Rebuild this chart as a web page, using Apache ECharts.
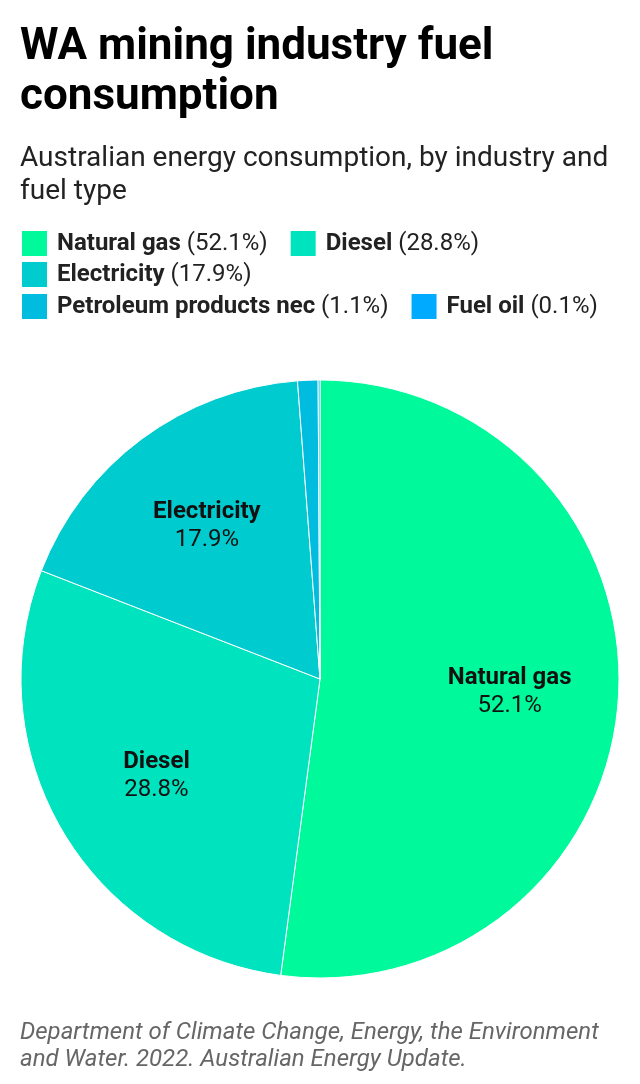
<!DOCTYPE html>
<html lang="en">
<head>
    <meta charset="UTF-8">
    <title>WA mining industry fuel consumption</title>
    <script src="https://cdn.jsdelivr.net/npm/echarts@6/dist/echarts.min.js"></script>
    <style>
        html, body { margin: 0; padding: 0; background: #fff; }
    </style>
</head>
<body>

<div id="pie_wrap" style="width: 640px; height: 1084px;"></div>

<script>
    var fuels = ["Natural gas", "Diesel", "Electricity", "Petroleum products nec", "Fuel oil"];
    var shares = [52.1, 28.8, 17.9, 1.1, 0.1];
    var colors = ["#00f99a", "#00e3bf", "#00ccd0", "#00bde0", "#00aaff"];
    // which slices carry a label inside the pie
    var showLabel = [true, true, true, false, false];

    var legendRows = [
        ["Natural gas", "Diesel"],
        ["Electricity"],
        ["Petroleum products nec", "Fuel oil"]
    ];

    var font = "Roboto, 'Noto Sans', sans-serif";

    var pieData = [];
    var labelData = [];
    for (var i = 0; i < fuels.length; i++) {
        pieData.push({
            name: fuels[i],
            value: shares[i],
            itemStyle: { color: colors[i] }
        });
        labelData.push({
            name: fuels[i],
            value: shares[i],
            label: { show: showLabel[i] }
        });
    }

    function shareOf(name) {
        return shares[fuels.indexOf(name)];
    }

    var legendTops = [229, 260, 292];
    var legends = [];
    for (var r = 0; r < legendRows.length; r++) {
        legends.push({
            data: legendRows[r],
            left: 20,
            top: legendTops[r],
            orient: 'horizontal',
            itemWidth: 27,
            itemHeight: 27,
            itemGap: 21,
            selectedMode: false,
            icon: 'rect',
            padding: 0,
            formatter: function (name) {
                return '{b|' + name + '} (' + shareOf(name).toFixed(1) + '%)';
            },
            textStyle: {
                fontFamily: font,
                fontSize: 24,
                color: '#222',
                padding: [0, 0, 0, 4],
                rich: {
                    b: { fontFamily: font, fontSize: 24, fontWeight: 'bold', color: '#222' }
                }
            }
        });
    }

    var myPie = echarts.init(document.getElementById("pie_wrap"));

    var option = {
        animation: false,
        title: [
            {
                text: 'WA mining industry fuel\nconsumption',
                left: 20,
                top: 23,
                padding: 0,
                textStyle: {
                    fontFamily: font,
                    fontSize: 44,
                    fontWeight: 'bold',
                    color: '#000',
                    lineHeight: 50
                }
            },
            {
                text: 'Australian energy consumption, by industry and\nfuel type',
                left: 20,
                top: 142,
                padding: 0,
                textStyle: {
                    fontFamily: font,
                    fontSize: 28,
                    fontWeight: 'normal',
                    color: '#222',
                    lineHeight: 33
                }
            },
            {
                text: 'Department of Climate Change, Energy, the Environment\nand Water. 2022. Australian Energy Update.',
                left: 20,
                top: 1019,
                padding: 0,
                textStyle: {
                    fontFamily: font,
                    fontSize: 24,
                    fontWeight: 'normal',
                    fontStyle: 'italic',
                    color: '#666',
                    lineHeight: 27
                }
            }
        ],
        legend: legends,
        series: [
            {
                name: 'Fuel',
                type: 'pie',
                radius: 299,
                center: [320, 679],
                startAngle: 90,
                clockwise: true,
                silent: true,
                data: pieData,
                label: { show: false },
                labelLine: { show: false },
                itemStyle: {
                    borderColor: '#fff',
                    borderWidth: 1
                }
            },
            {
                // transparent overlay that only places the labels a bit further out
                name: 'Labels',
                type: 'pie',
                radius: 374,
                center: [320, 679],
                startAngle: 90,
                clockwise: true,
                silent: true,
                data: labelData,
                itemStyle: { color: 'rgba(0,0,0,0)' },
                labelLine: { show: false },
                label: {
                    position: 'inside',
                    formatter: function (p) {
                        return '{n|' + p.name + '}\n{v|' + p.value.toFixed(1) + '%}';
                    },
                    rich: {
                        n: { fontFamily: font, fontSize: 24, fontWeight: 'bold', color: '#111', lineHeight: 28, align: 'center' },
                        v: { fontFamily: font, fontSize: 24, color: '#111', lineHeight: 28, align: 'center' }
                    }
                }
            }
        ]
    };

    myPie.setOption(option);
</script>
</body>
</html>
